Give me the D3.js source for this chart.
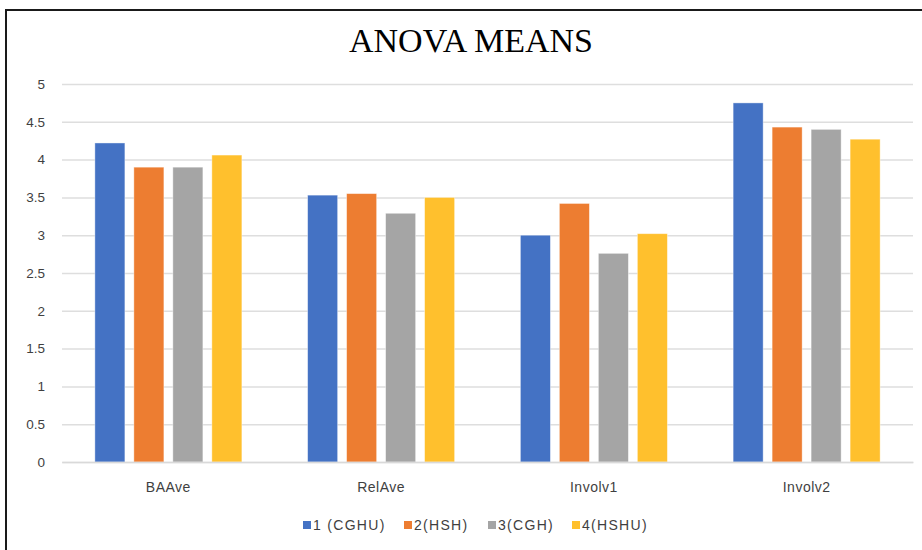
<!DOCTYPE html>
<html>
<head>
<meta charset="utf-8">
<script src="https://cdn.jsdelivr.net/npm/d3@7/dist/d3.min.js"></script>
<style>
  html, body { margin: 0; padding: 0; background: #fff; }
  svg { display: block; }
</style>
</head>
<body>
<svg id="chart" width="922" height="550"></svg>
<script>
// Group means per measure
const categories = ["BAAve", "RelAve", "Involv1", "Involv2"];
const seriesNames = ["1 (CGHU)", "2(HSH)", "3(CGH)", "4(HSHU)"];
const series1 = [4.22, 3.53, 3.00, 4.75];
const series2 = [3.90, 3.55, 3.42, 4.43];
const series3 = [3.90, 3.29, 2.76, 4.40];
const series4 = [4.06, 3.50, 3.02, 4.27];
const yTicks = [0, 0.5, 1, 1.5, 2, 2.5, 3, 3.5, 4, 4.5, 5];
const colors = ["#4472C4", "#ED7D31", "#A5A5A5", "#FFC02D"];

const seriesValues = [series1, series2, series3, series4];
const rows = categories.map((c, i) => ({
  category: c,
  values: seriesNames.map((s, j) => ({ series: s, value: seriesValues[j][i], color: colors[j] }))
}));

const svg = d3.select("#chart");
const plot = { left: 62, right: 913, top: 84, bottom: 462 };

// chart frame
svg.append("rect")
  .attr("x", 6).attr("y", 10)
  .attr("width", 930).attr("height", 560)
  .attr("fill", "#fff")
  .attr("stroke", "#1a1a1a")
  .attr("stroke-width", 2);

// title
svg.append("text")
  .attr("x", 471).attr("y", 52)
  .attr("text-anchor", "middle")
  .attr("font-family", "'Liberation Serif', 'Times New Roman', serif")
  .attr("font-size", 34)
  .attr("fill", "#000")
  .text("ANOVA MEANS");

const x0 = d3.scaleBand()
  .domain(categories)
  .range([plot.left, plot.right])
  .paddingInner(0.309)
  .paddingOuter(0.1545);

const x1 = d3.scaleBand()
  .domain(seriesNames)
  .range([0, x0.bandwidth()])
  .paddingInner(0.23);

const y = d3.scaleLinear()
  .domain([0, 5])
  .range([plot.bottom, plot.top]);

// y axis with gridlines
const yAxis = svg.append("g")
  .attr("transform", `translate(${plot.left},0)`)
  .call(d3.axisLeft(y)
    .tickValues(yTicks)
    .tickFormat(d3.format("~g"))
    .tickSize(-(plot.right - plot.left))
    .tickPadding(17));
yAxis.select(".domain").remove();
yAxis.selectAll(".tick line")
  .attr("stroke", "#dedede")
  .attr("stroke-width", 1.5);
yAxis.selectAll(".tick text")
  .attr("font-family", "'Liberation Sans', Arial, sans-serif")
  .attr("font-size", 13.5)
  .attr("fill", "#3f3f3f");

// bars
const groups = svg.append("g")
  .selectAll("g")
  .data(rows)
  .join("g")
  .attr("transform", d => `translate(${x0(d.category)},0)`);

groups.selectAll("rect")
  .data(d => d.values)
  .join("rect")
  .attr("x", d => x1(d.series))
  .attr("y", d => y(d.value))
  .attr("width", x1.bandwidth())
  .attr("height", d => y(0) - y(d.value))
  .attr("fill", d => d.color)
  .attr("stroke", "#fff")
  .attr("stroke-opacity", 0.5)
  .attr("stroke-width", 0.8);

// x axis
const xAxis = svg.append("g")
  .attr("transform", `translate(0,${plot.bottom})`)
  .call(d3.axisBottom(x0).tickSize(0).tickPadding(20));
xAxis.select(".domain")
  .attr("stroke", "#d9d9d9")
  .attr("stroke-width", 1.5);
xAxis.selectAll(".tick text")
  .attr("font-family", "'Liberation Sans', Arial, sans-serif")
  .attr("font-size", 14)
  .attr("letter-spacing", 0.5)
  .attr("fill", "#3f3f3f");

// legend
const legendX = [303, 404, 488, 572];
const legend = svg.append("g")
  .selectAll("g")
  .data(seriesNames)
  .join("g")
  .attr("transform", (d, i) => `translate(${legendX[i]},525)`);
legend.append("rect")
  .attr("x", 0).attr("y", -4)
  .attr("width", 8).attr("height", 8)
  .attr("fill", (d, i) => colors[i]);
legend.append("text")
  .attr("x", 10).attr("y", 5)
  .attr("font-family", "'Liberation Sans', Arial, sans-serif")
  .attr("font-size", 14)
  .attr("letter-spacing", 1.3)
  .attr("fill", "#3f3f3f")
  .text(d => d);
</script>
</body>
</html>
